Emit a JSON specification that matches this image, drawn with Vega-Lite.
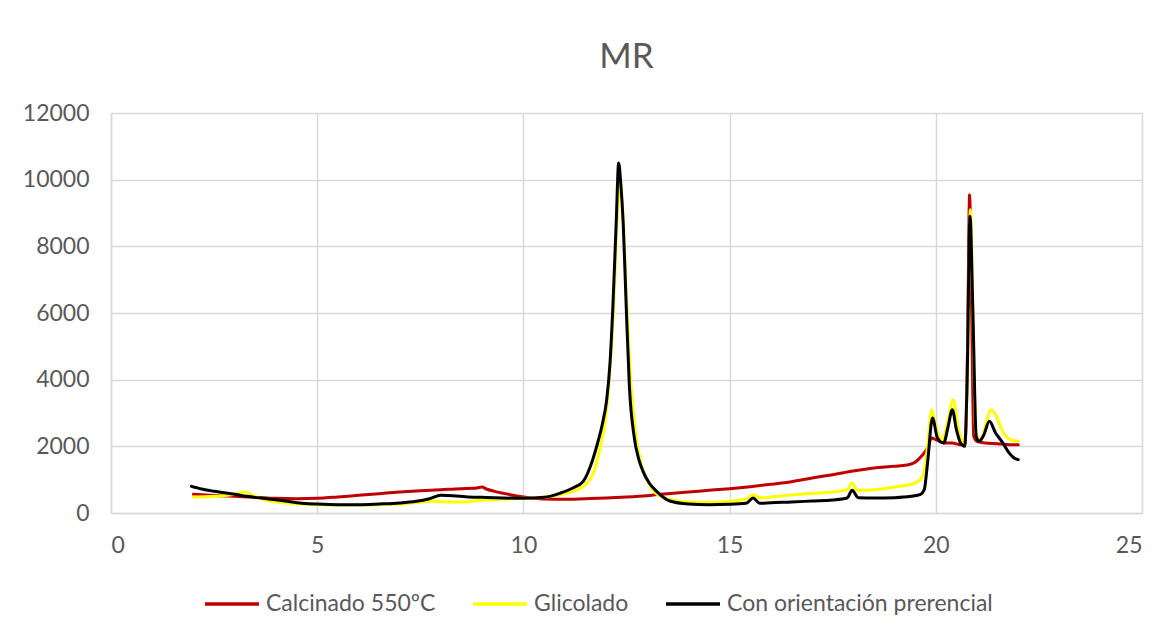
{
  "$schema": "https://vega.github.io/schema/vega-lite/v6.json",
  "width": 1031,
  "height": 400,
  "autosize": "none",
  "padding": {"left": 111, "top": 113, "right": 33, "bottom": 121},
  "background": "white",
  "title": {"text": "MR", "font": "Lato", "fontSize": 35, "fontWeight": "normal", "color": "#595959", "frame": "group", "baseline": "alphabetic", "offset": -1, "anchor": "middle"},
  "data": {"values": [
    {"x":2.0,"y":560,"s":"Calcinado 550ºC"},{"x":2.3,"y":540,"s":"Calcinado 550ºC"},{"x":2.6,"y":520,"s":"Calcinado 550ºC"},{"x":3.0,"y":500,"s":"Calcinado 550ºC"},{"x":3.5,"y":470,"s":"Calcinado 550ºC"},{"x":4.0,"y":440,"s":"Calcinado 550ºC"},{"x":4.5,"y":430,"s":"Calcinado 550ºC"},{"x":5.0,"y":440,"s":"Calcinado 550ºC"},{"x":5.5,"y":480,"s":"Calcinado 550ºC"},{"x":6.0,"y":530,"s":"Calcinado 550ºC"},{"x":6.5,"y":580,"s":"Calcinado 550ºC"},{"x":7.0,"y":630,"s":"Calcinado 550ºC"},{"x":7.5,"y":670,"s":"Calcinado 550ºC"},{"x":8.0,"y":700,"s":"Calcinado 550ºC"},{"x":8.5,"y":730,"s":"Calcinado 550ºC"},{"x":8.8,"y":740,"s":"Calcinado 550ºC"},{"x":9.0,"y":780,"s":"Calcinado 550ºC"},{"x":9.1,"y":720,"s":"Calcinado 550ºC"},{"x":9.3,"y":650,"s":"Calcinado 550ºC"},{"x":9.6,"y":570,"s":"Calcinado 550ºC"},{"x":10.0,"y":480,"s":"Calcinado 550ºC"},{"x":10.5,"y":420,"s":"Calcinado 550ºC"},{"x":11.0,"y":410,"s":"Calcinado 550ºC"},{"x":11.5,"y":430,"s":"Calcinado 550ºC"},{"x":12.0,"y":450,"s":"Calcinado 550ºC"},{"x":12.5,"y":480,"s":"Calcinado 550ºC"},{"x":13.0,"y":520,"s":"Calcinado 550ºC"},{"x":13.5,"y":580,"s":"Calcinado 550ºC"},{"x":14.0,"y":630,"s":"Calcinado 550ºC"},{"x":14.5,"y":680,"s":"Calcinado 550ºC"},{"x":15.0,"y":730,"s":"Calcinado 550ºC"},{"x":15.5,"y":790,"s":"Calcinado 550ºC"},{"x":16.0,"y":860,"s":"Calcinado 550ºC"},{"x":16.5,"y":940,"s":"Calcinado 550ºC"},{"x":17.0,"y":1050,"s":"Calcinado 550ºC"},{"x":17.5,"y":1150,"s":"Calcinado 550ºC"},{"x":18.0,"y":1260,"s":"Calcinado 550ºC"},{"x":18.5,"y":1350,"s":"Calcinado 550ºC"},{"x":19.0,"y":1400,"s":"Calcinado 550ºC"},{"x":19.3,"y":1440,"s":"Calcinado 550ºC"},{"x":19.5,"y":1520,"s":"Calcinado 550ºC"},{"x":19.65,"y":1700,"s":"Calcinado 550ºC"},{"x":19.8,"y":1950,"s":"Calcinado 550ºC"},{"x":19.9,"y":2250,"s":"Calcinado 550ºC"},{"x":20.0,"y":2200,"s":"Calcinado 550ºC"},{"x":20.2,"y":2100,"s":"Calcinado 550ºC"},{"x":20.4,"y":2100,"s":"Calcinado 550ºC"},{"x":20.6,"y":2050,"s":"Calcinado 550ºC"},{"x":20.72,"y":2100,"s":"Calcinado 550ºC"},{"x":20.77,"y":5000,"s":"Calcinado 550ºC"},{"x":20.82,"y":9550,"s":"Calcinado 550ºC"},{"x":20.87,"y":6000,"s":"Calcinado 550ºC"},{"x":20.92,"y":2300,"s":"Calcinado 550ºC"},{"x":21.0,"y":2150,"s":"Calcinado 550ºC"},{"x":21.2,"y":2100,"s":"Calcinado 550ºC"},{"x":21.5,"y":2080,"s":"Calcinado 550ºC"},{"x":21.8,"y":2050,"s":"Calcinado 550ºC"},{"x":22.0,"y":2050,"s":"Calcinado 550ºC"},

    {"x":2.0,"y":480,"s":"Glicolado"},{"x":2.5,"y":500,"s":"Glicolado"},{"x":3.0,"y":560,"s":"Glicolado"},{"x":3.25,"y":640,"s":"Glicolado"},{"x":3.45,"y":520,"s":"Glicolado"},{"x":3.7,"y":400,"s":"Glicolado"},{"x":4.0,"y":330,"s":"Glicolado"},{"x":4.5,"y":280,"s":"Glicolado"},{"x":5.0,"y":250,"s":"Glicolado"},{"x":5.5,"y":240,"s":"Glicolado"},{"x":6.0,"y":240,"s":"Glicolado"},{"x":6.5,"y":250,"s":"Glicolado"},{"x":7.0,"y":270,"s":"Glicolado"},{"x":7.5,"y":320,"s":"Glicolado"},{"x":7.8,"y":360,"s":"Glicolado"},{"x":8.1,"y":330,"s":"Glicolado"},{"x":8.5,"y":330,"s":"Glicolado"},{"x":9.0,"y":380,"s":"Glicolado"},{"x":9.5,"y":410,"s":"Glicolado"},{"x":10.0,"y":440,"s":"Glicolado"},{"x":10.5,"y":470,"s":"Glicolado"},{"x":10.9,"y":560,"s":"Glicolado"},{"x":11.2,"y":650,"s":"Glicolado"},{"x":11.5,"y":850,"s":"Glicolado"},{"x":11.7,"y":1200,"s":"Glicolado"},{"x":11.85,"y":1900,"s":"Glicolado"},{"x":12.0,"y":2900,"s":"Glicolado"},{"x":12.1,"y":4300,"s":"Glicolado"},{"x":12.2,"y":6500,"s":"Glicolado"},{"x":12.28,"y":9000,"s":"Glicolado"},{"x":12.34,"y":10000,"s":"Glicolado"},{"x":12.42,"y":8800,"s":"Glicolado"},{"x":12.5,"y":6500,"s":"Glicolado"},{"x":12.6,"y":4000,"s":"Glicolado"},{"x":12.72,"y":2400,"s":"Glicolado"},{"x":12.85,"y":1500,"s":"Glicolado"},{"x":13.0,"y":1000,"s":"Glicolado"},{"x":13.2,"y":600,"s":"Glicolado"},{"x":13.5,"y":420,"s":"Glicolado"},{"x":14.0,"y":330,"s":"Glicolado"},{"x":14.5,"y":320,"s":"Glicolado"},{"x":15.0,"y":350,"s":"Glicolado"},{"x":15.4,"y":420,"s":"Glicolado"},{"x":15.57,"y":550,"s":"Glicolado"},{"x":15.75,"y":450,"s":"Glicolado"},{"x":16.0,"y":480,"s":"Glicolado"},{"x":16.5,"y":540,"s":"Glicolado"},{"x":17.0,"y":590,"s":"Glicolado"},{"x":17.5,"y":630,"s":"Glicolado"},{"x":17.85,"y":700,"s":"Glicolado"},{"x":17.97,"y":900,"s":"Glicolado"},{"x":18.1,"y":680,"s":"Glicolado"},{"x":18.5,"y":700,"s":"Glicolado"},{"x":19.0,"y":780,"s":"Glicolado"},{"x":19.5,"y":900,"s":"Glicolado"},{"x":19.7,"y":1150,"s":"Glicolado"},{"x":19.8,"y":2000,"s":"Glicolado"},{"x":19.9,"y":3100,"s":"Glicolado"},{"x":20.0,"y":2600,"s":"Glicolado"},{"x":20.15,"y":2200,"s":"Glicolado"},{"x":20.3,"y":2800,"s":"Glicolado"},{"x":20.42,"y":3400,"s":"Glicolado"},{"x":20.55,"y":2500,"s":"Glicolado"},{"x":20.7,"y":2100,"s":"Glicolado"},{"x":20.77,"y":4500,"s":"Glicolado"},{"x":20.84,"y":9100,"s":"Glicolado"},{"x":20.9,"y":6000,"s":"Glicolado"},{"x":20.97,"y":2400,"s":"Glicolado"},{"x":21.1,"y":2200,"s":"Glicolado"},{"x":21.22,"y":2700,"s":"Glicolado"},{"x":21.33,"y":3100,"s":"Glicolado"},{"x":21.45,"y":2950,"s":"Glicolado"},{"x":21.6,"y":2500,"s":"Glicolado"},{"x":21.8,"y":2200,"s":"Glicolado"},{"x":22.0,"y":2150,"s":"Glicolado"},

    {"x":1.95,"y":800,"s":"Con orientación prerencial"},{"x":2.2,"y":720,"s":"Con orientación prerencial"},{"x":2.5,"y":650,"s":"Con orientación prerencial"},{"x":3.0,"y":560,"s":"Con orientación prerencial"},{"x":3.3,"y":500,"s":"Con orientación prerencial"},{"x":3.7,"y":440,"s":"Con orientación prerencial"},{"x":4.0,"y":400,"s":"Con orientación prerencial"},{"x":4.5,"y":310,"s":"Con orientación prerencial"},{"x":5.0,"y":270,"s":"Con orientación prerencial"},{"x":5.5,"y":250,"s":"Con orientación prerencial"},{"x":6.0,"y":250,"s":"Con orientación prerencial"},{"x":6.5,"y":270,"s":"Con orientación prerencial"},{"x":7.0,"y":300,"s":"Con orientación prerencial"},{"x":7.4,"y":350,"s":"Con orientación prerencial"},{"x":7.7,"y":420,"s":"Con orientación prerencial"},{"x":8.0,"y":530,"s":"Con orientación prerencial"},{"x":8.3,"y":520,"s":"Con orientación prerencial"},{"x":8.6,"y":490,"s":"Con orientación prerencial"},{"x":9.0,"y":470,"s":"Con orientación prerencial"},{"x":9.5,"y":450,"s":"Con orientación prerencial"},{"x":10.0,"y":440,"s":"Con orientación prerencial"},{"x":10.5,"y":470,"s":"Con orientación prerencial"},{"x":10.9,"y":600,"s":"Con orientación prerencial"},{"x":11.2,"y":750,"s":"Con orientación prerencial"},{"x":11.45,"y":950,"s":"Con orientación prerencial"},{"x":11.68,"y":1600,"s":"Con orientación prerencial"},{"x":11.8,"y":2100,"s":"Con orientación prerencial"},{"x":11.92,"y":2700,"s":"Con orientación prerencial"},{"x":12.02,"y":3400,"s":"Con orientación prerencial"},{"x":12.1,"y":4500,"s":"Con orientación prerencial"},{"x":12.17,"y":6200,"s":"Con orientación prerencial"},{"x":12.25,"y":8700,"s":"Con orientación prerencial"},{"x":12.31,"y":10500,"s":"Con orientación prerencial"},{"x":12.36,"y":9900,"s":"Con orientación prerencial"},{"x":12.42,"y":8700,"s":"Con orientación prerencial"},{"x":12.49,"y":6300,"s":"Con orientación prerencial"},{"x":12.57,"y":3800,"s":"Con orientación prerencial"},{"x":12.69,"y":2250,"s":"Con orientación prerencial"},{"x":12.8,"y":1600,"s":"Con orientación prerencial"},{"x":12.9,"y":1250,"s":"Con orientación prerencial"},{"x":13.05,"y":900,"s":"Con orientación prerencial"},{"x":13.23,"y":650,"s":"Con orientación prerencial"},{"x":13.55,"y":360,"s":"Con orientación prerencial"},{"x":14.0,"y":270,"s":"Con orientación prerencial"},{"x":14.5,"y":250,"s":"Con orientación prerencial"},{"x":15.0,"y":260,"s":"Con orientación prerencial"},{"x":15.4,"y":290,"s":"Con orientación prerencial"},{"x":15.57,"y":450,"s":"Con orientación prerencial"},{"x":15.73,"y":290,"s":"Con orientación prerencial"},{"x":16.0,"y":310,"s":"Con orientación prerencial"},{"x":16.5,"y":330,"s":"Con orientación prerencial"},{"x":17.0,"y":360,"s":"Con orientación prerencial"},{"x":17.5,"y":390,"s":"Con orientación prerencial"},{"x":17.85,"y":450,"s":"Con orientación prerencial"},{"x":17.97,"y":680,"s":"Con orientación prerencial"},{"x":18.12,"y":460,"s":"Con orientación prerencial"},{"x":18.5,"y":450,"s":"Con orientación prerencial"},{"x":19.0,"y":460,"s":"Con orientación prerencial"},{"x":19.4,"y":500,"s":"Con orientación prerencial"},{"x":19.63,"y":560,"s":"Con orientación prerencial"},{"x":19.72,"y":700,"s":"Con orientación prerencial"},{"x":19.8,"y":1500,"s":"Con orientación prerencial"},{"x":19.92,"y":2850,"s":"Con orientación prerencial"},{"x":20.04,"y":2250,"s":"Con orientación prerencial"},{"x":20.19,"y":2100,"s":"Con orientación prerencial"},{"x":20.3,"y":2600,"s":"Con orientación prerencial"},{"x":20.4,"y":3100,"s":"Con orientación prerencial"},{"x":20.5,"y":2500,"s":"Con orientación prerencial"},{"x":20.6,"y":2100,"s":"Con orientación prerencial"},{"x":20.7,"y":2000,"s":"Con orientación prerencial"},{"x":20.76,"y":4000,"s":"Con orientación prerencial"},{"x":20.83,"y":8900,"s":"Con orientación prerencial"},{"x":20.9,"y":6000,"s":"Con orientación prerencial"},{"x":20.98,"y":2300,"s":"Con orientación prerencial"},{"x":21.05,"y":2150,"s":"Con orientación prerencial"},{"x":21.16,"y":2330,"s":"Con orientación prerencial"},{"x":21.3,"y":2750,"s":"Con orientación prerencial"},{"x":21.45,"y":2400,"s":"Con orientación prerencial"},{"x":21.6,"y":2150,"s":"Con orientación prerencial"},{"x":21.75,"y":1850,"s":"Con orientación prerencial"},{"x":21.9,"y":1650,"s":"Con orientación prerencial"},{"x":22.0,"y":1600,"s":"Con orientación prerencial"}
  ]},
  "mark": {"type": "line", "strokeWidth": 3, "strokeJoin": "round", "strokeCap": "round", "interpolate": "monotone"},
  "encoding": {
    "x": {"field": "x", "type": "quantitative", "scale": {"domain": [0, 25], "nice": false}, "axis": {"values": [0, 5, 10, 15, 20, 25], "title": null, "labelPadding": 21}},
    "y": {"field": "y", "type": "quantitative", "scale": {"domain": [0, 12000], "nice": false}, "axis": {"values": [0, 2000, 4000, 6000, 8000, 10000, 12000], "format": "d", "title": null, "labelPadding": 22}},
    "color": {"field": "s", "type": "nominal", "sort": null,
      "scale": {"domain": ["Calcinado 550ºC", "Glicolado", "Con orientación prerencial"], "range": ["#C00000", "#FFFF00", "#000000"]},
      "legend": {"title": null, "orient": "none", "legendX": 92, "legendY": 462, "direction": "horizontal", "symbolType": "stroke", "symbolSize": 2916, "symbolStrokeWidth": 3.5, "labelFont": "Lato", "labelFontSize": 23, "labelColor": "#595959", "labelLimit": 500, "columnPadding": 30, "labelOffset": 5}}
  },
  "config": {
    "view": {"stroke": null},
    "axis": {"domainColor": "#d9d9d9", "domainWidth": 1.5, "gridColor": "#d9d9d9", "gridWidth": 1.5, "ticks": false, "labelFont": "Lato", "labelFontSize": 23, "labelColor": "#595959"}
  }
}
